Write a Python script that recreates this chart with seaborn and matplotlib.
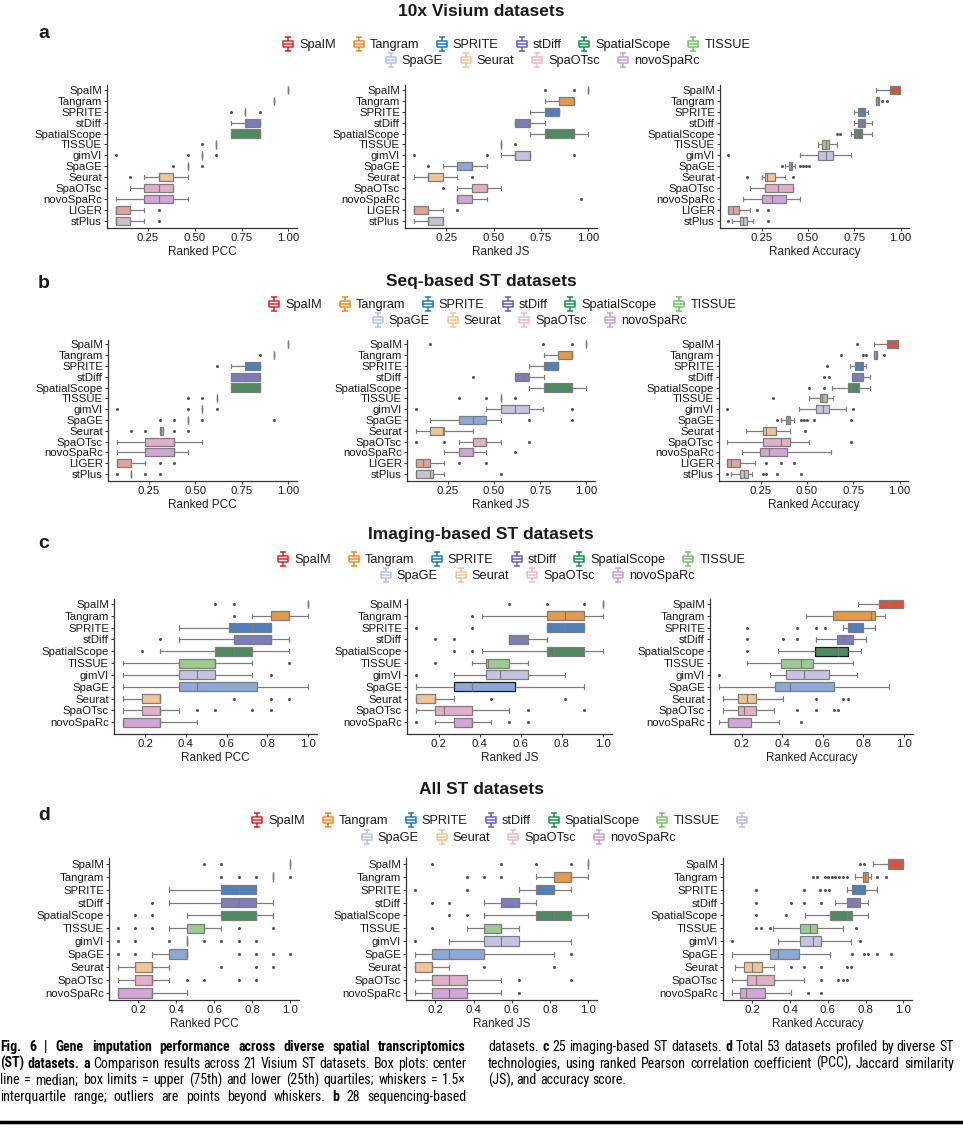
import numpy as np
import pandas as pd
import seaborn as sns
import matplotlib.pyplot as plt
from matplotlib import font_manager
from matplotlib.path import Path
from matplotlib.lines import Line2D

sns.set_theme(style="ticks")
plt.rcParams["font.family"] = ["Liberation Sans", "DejaVu Sans"]

W, H = 963, 1137

methods = ["SpaIM", "Tangram", "SPRITE", "stDiff", "SpatialScope", "TISSUE", "gimVI",
           "SpaGE", "Seurat", "SpaOTsc", "novoSpaRc", "LIGER", "stPlus"]
box_colors = ["#D6543F", "#E39A4C", "#4E80BE", "#7B7DB8", "#4E8A5E", "#9BCB8F", "#C4C4E2",
              "#8CA8D6", "#F1C495", "#E2AFC8", "#D3A4D8", "#E1A596", "#C8C2CC"]

legend_row1 = ["SpaIM", "Tangram", "SPRITE", "stDiff", "SpatialScope", "TISSUE"]
legend_row1_colors = ["#D62728", "#F08A24", "#1F78C1", "#5F62C0", "#17944A", "#79C26E"]
legend_row2 = ["SpaGE", "Seurat", "SpaOTsc", "novoSpaRc"]
legend_row2_colors = ["#AFC6E9", "#F5C190", "#F0B6CC", "#C8A2D6"]
gimvi_legend_color = "#B9B9E6"

# per method: (whisker low, q1, median, q3, whisker high, outliers)
visium_pcc = {
    "SpaIM": (1, 1, 1, 1, 1, []),
    "Tangram": (.923, .923, .923, .923, .923, []),
    "SPRITE": (.769, .769, .769, .769, .769, [.692, .846]),
    "stDiff": (.692, .769, .846, .846, .846, []),
    "SpatialScope": (.692, .692, .846, .846, .846, []),
    "TISSUE": (.615, .615, .615, .615, .615, [.538]),
    "gimVI": (.538, .538, .538, .538, .538, [.077, .462, .615]),
    "SpaGE": (.462, .462, .462, .462, .462, [.385, .538]),
    "Seurat": (.231, .308, .308, .385, .462, [.154]),
    "SpaOTsc": (.154, .231, .308, .385, .385, []),
    "novoSpaRc": (.077, .231, .308, .385, .462, []),
    "LIGER": (.077, .077, .077, .154, .231, [.308]),
    "stPlus": (.077, .077, .077, .154, .231, [.308]),
}
visium_js = {
    "SpaIM": (1, 1, 1, 1, 1, [.769, .923]),
    "Tangram": (.769, .846, .923, .923, .923, []),
    "SPRITE": (.692, .769, .846, .846, .846, []),
    "stDiff": (.615, .615, .615, .692, .769, []),
    "SpatialScope": (.692, .769, .923, .923, 1.0, []),
    "TISSUE": (.538, .538, .538, .538, .538, [.615]),
    "gimVI": (.538, .615, .615, .692, .692, [.077, .462, .923]),
    "SpaGE": (.231, .308, .385, .385, .462, [.154]),
    "Seurat": (.077, .154, .154, .231, .308, [.385]),
    "SpaOTsc": (.308, .385, .462, .462, .538, [.231]),
    "novoSpaRc": (.308, .308, .308, .385, .462, [.96]),
    "LIGER": (.077, .077, .077, .154, .231, [.308]),
    "stPlus": (.077, .154, .154, .231, .231, []),
}
visium_acc = {
    "SpaIM": (.867, .94, .97, .995, .995, []),
    "Tangram": (.868, .868, .875, .885, .885, [.90, .925]),
    "SPRITE": (.75, .77, .785, .81, .825, []),
    "stDiff": (.75, .77, .79, .81, .845, []),
    "SpatialScope": (.73, .75, .76, .79, .845, [.655, .67]),
    "TISSUE": (.555, .575, .595, .615, .655, []),
    "gimVI": (.457, .555, .595, .635, .73, [.07]),
    "SpaGE": (.375, .395, .41, .415, .43, [.36, .457, .475, .49, .505]),
    "Seurat": (.25, .27, .28, .32, .375, [.17, .42]),
    "SpaOTsc": (.187, .268, .34, .42, .42, []),
    "novoSpaRc": (.15, .25, .305, .38, .457, []),
    "LIGER": (.07, .07, .097, .13, .187, [.223, .286]),
    "stPlus": (.088, .133, .15, .17, .205, [.07, .286]),
}

seq_pcc = {
    "SpaIM": (1, 1, 1, 1, 1, []),
    "Tangram": (.923, .923, .923, .923, .923, [.846]),
    "SPRITE": (.692, .769, .846, .846, .846, [.615]),
    "stDiff": (.692, .692, .769, .846, .846, []),
    "SpatialScope": (.692, .692, .846, .846, .846, []),
    "TISSUE": (.615, .615, .615, .615, .615, [.462, .538]),
    "gimVI": (.538, .538, .538, .538, .538, [.077, .462, .615]),
    "SpaGE": (.462, .462, .462, .462, .462, [.308, .385, .538, .923]),
    "Seurat": (.308, .308, .315, .325, .325, [.154, .231, .385, .462]),
    "SpaOTsc": (.077, .231, .385, .385, .538, []),
    "novoSpaRc": (.077, .231, .385, .385, .462, []),
    "LIGER": (.077, .077, .077, .154, .231, [.308, .385]),
    "stPlus": (.154, .154, .154, .154, .154, [.077, .231, .308]),
}
seq_js = {
    "SpaIM": (1, 1, 1, 1, 1, [.153, .767, .92]),
    "Tangram": (.769, .846, .923, .923, .923, []),
    "SPRITE": (.692, .769, .846, .846, .846, []),
    "stDiff": (.615, .615, .66, .692, .769, [.39]),
    "SpatialScope": (.692, .769, .923, .923, 1.0, []),
    "TISSUE": (.54, .54, .54, .54, .54, [.31, .46, .615]),
    "gimVI": (.455, .54, .615, .69, .765, [.08, .92]),
    "SpaGE": (.155, .31, .39, .46, .54, [.69, .92]),
    "Seurat": (.08, .155, .225, .23, .39, []),
    "SpaOTsc": (.31, .39, .46, .46, .54, [.08, .23, .69]),
    "novoSpaRc": (.23, .31, .39, .39, .46, [.615]),
    "LIGER": (.08, .08, .12, .155, .23, [.31, .46]),
    "stPlus": (.08, .08, .155, .17, .23, [.54]),
}
seq_acc = {
    "SpaIM": (.86, .93, .96, .99, .99, [.77]),
    "Tangram": (.86, .86, .87, .88, .88, [.685, .80, .82, .915]),
    "SPRITE": (.73, .76, .78, .80, .82, [.61]),
    "stDiff": (.745, .745, .77, .80, .84, [.59, .62]),
    "SpatialScope": (.637, .72, .735, .78, .84, [.51, .59]),
    "TISSUE": (.51, .57, .583, .61, .64, [.315]),
    "gimVI": (.457, .55, .586, .62, .71, [.07, .75]),
    "SpaGE": (.358, .385, .40, .41, .43, [.34, .466, .484, .50, .54, .735]),
    "Seurat": (.17, .26, .277, .33, .41, [.49]),
    "SpaOTsc": (.07, .26, .358, .41, .51, [.735]),
    "novoSpaRc": (.15, .246, .295, .394, .63, []),
    "LIGER": (.07, .07, .09, .14, .22, [.277, .358, .43]),
    "stPlus": (.088, .14, .16, .18, .205, [.07, .265, .28, .336, .47]),
}

img_pcc = {
    "SpaIM": (1, 1, 1, 1, 1, [.545, .636]),
    "Tangram": (.727, .818, .909, .909, 1.0, [.636]),
    "SPRITE": (.364, .612, .727, .818, .818, []),
    "stDiff": (.364, .636, .818, .818, .909, [.273]),
    "SpatialScope": (.273, .545, .636, .727, .909, [.182]),
    "TISSUE": (.091, .364, .545, .545, .727, [.909]),
    "gimVI": (.091, .364, .455, .545, .727, [.818]),
    "SpaGE": (.091, .364, .455, .75, 1.0, []),
    "Seurat": (.091, .182, .273, .273, .273, [.636, .818, .909]),
    "SpaOTsc": (.091, .182, .273, .273, .364, [.455, .545, .727, .818]),
    "novoSpaRc": (.091, .091, .273, .273, .455, []),
}
img_js = {
    "SpaIM": (1, 1, 1, 1, 1, [.545, .727, .909]),
    "Tangram": (.41, .727, .818, .909, 1.0, [.364]),
    "SPRITE": (.727, .727, .818, .909, .909, [.091, .364]),
    "stDiff": (.545, .545, .545, .636, .727, [.182, .273]),
    "SpatialScope": (.41, .727, .76, .909, 1.0, [.273, .364]),
    "TISSUE": (.364, .43, .44, .545, .636, [.182]),
    "gimVI": (.273, .43, .5, .636, .818, [.091]),
    "SpaGE": (.091, .273, .364, .57, .909, []),
    "Seurat": (.091, .091, .182, .182, .273, [.455, .818]),
    "SpaOTsc": (.091, .182, .227, .364, .545, [.636, .909]),
    "novoSpaRc": (.182, .273, .364, .364, .455, [.091, .545, .636]),
}
img_acc = {
    "SpaIM": (.775, .878, .93, .995, .995, []),
    "Tangram": (.52, .65, .84, .86, .906, []),
    "SPRITE": (.70, .725, .77, .80, .86, [.225, .474, .566, .61]),
    "stDiff": (.566, .67, .70, .75, .815, [.225, .405, .474]),
    "SpatialScope": (.38, .56, .676, .725, .79, [.225]),
    "TISSUE": (.225, .394, .495, .55, .75, []),
    "gimVI": (.34, .42, .51, .63, .77, [.09]),
    "SpaGE": (.09, .364, .44, .656, .927, []),
    "Seurat": (.11, .18, .225, .27, .405, [.566, .70, .725]),
    "SpaOTsc": (.11, .18, .213, .27, .36, [.474, .566, .655, .676]),
    "novoSpaRc": (.09, .134, .134, .246, .384, [.495]),
}

all_pcc = {
    "SpaIM": (1, 1, 1, 1, 1, [.545, .636]),
    "Tangram": (.909, .909, .909, .909, .909, [.636, .727, .818, 1.0]),
    "SPRITE": (.364, .636, .727, .818, .818, []),
    "stDiff": (.364, .636, .727, .818, .909, [.273]),
    "SpatialScope": (.455, .636, .818, .818, .909, [.182, .273]),
    "TISSUE": (.364, .455, .545, .545, .636, [.091, .182, .273, .727, .909]),
    "gimVI": (.455, .455, .455, .455, .455, [.091, .182, .364, .545, .636, .727, .818]),
    "SpaGE": (.273, .364, .455, .455, .455, [.091, .182, .727, .818, .909, 1.0]),
    "Seurat": (.091, .182, .273, .273, .364, [.636, .818, .909]),
    "SpaOTsc": (.091, .182, .273, .273, .364, [.455, .545, .727, .818]),
    "novoSpaRc": (.091, .091, .273, .273, .455, []),
}
all_js = {
    "SpaIM": (1, 1, 1, 1, 1, [.182, .545, .727, .909]),
    "Tangram": (.727, .818, .909, .909, 1.0, [.364, .455, .545]),
    "SPRITE": (.636, .727, .818, .818, .909, [.091, .364]),
    "stDiff": (.455, .545, .636, .636, .727, [.182, .273]),
    "SpatialScope": (.455, .727, .818, .909, 1.0, [.273, .364]),
    "TISSUE": (.364, .455, .545, .545, .636, [.182]),
    "gimVI": (.273, .455, .545, .636, .909, [.091]),
    "SpaGE": (.091, .182, .273, .455, .818, [.909]),
    "Seurat": (.091, .091, .182, .182, .273, [.455, .818]),
    "SpaOTsc": (.091, .182, .273, .364, .545, [.636, .909]),
    "novoSpaRc": (.091, .182, .273, .364, .545, [.636]),
}
all_acc = {
    "SpaIM": (.837, .92, .99, .998, .998, [.77, .79]),
    "Tangram": (.743, .788, .796, .81, .83, [.52, .54, .584, .60, .62, .637, .66, .68, .70, .858, .908]),
    "SPRITE": (.70, .726, .752, .797, .858, [.22, .473, .56, .584, .607]),
    "stDiff": (.637, .70, .726, .77, .814, [.22, .407, .473, .566]),
    "SpatialScope": (.478, .61, .70, .726, .814, [.22, .38]),
    "TISSUE": (.31, .45, .504, .54, .68, [.22, .248, .292, .748]),
    "gimVI": (.336, .45, .52, .566, .72, [.09, .77]),
    "SpaGE": (.09, .296, .336, .448, .61, [.726, .79, .814, .862, .933]),
    "Seurat": (.106, .156, .20, .253, .313, [.407, .473, .566, .70, .72]),
    "SpaOTsc": (.09, .172, .22, .313, .473, [.566, .655, .678, .70]),
    "novoSpaRc": (.09, .133, .168, .265, .407, [.496, .566]),
}

ticks_a = [0.25, 0.50, 0.75, 1.00]
ticklabels_a = ["0.25", "0.50", "0.75", "1.00"]
ticks_c = [0.2, 0.4, 0.6, 0.8, 1.0]
ticklabels_c = ["0.2", "0.4", "0.6", "0.8", "1.0"]
xlabels = ["Ranked PCC", "Ranked JS", "Ranked Accuracy"]

palette = dict(zip(methods, box_colors))


def to_frames(stats, n=10):
    # turn the read box summaries into a sample whose quartiles give the same box
    rows, flier_rows = [], []
    for m, (lo, q1, med, q3, hi, fl) in stats.items():
        vals = [lo] + [q1] * n + [med] * n + [q3] * n + [hi]
        rows += [(m, v) for v in vals]
        flier_rows += [(m, v) for v in fl]
    return (pd.DataFrame(rows, columns=["method", "value"]),
            pd.DataFrame(flier_rows, columns=["method", "value"]))


fig = plt.figure(figsize=(W / 100, H / 100), dpi=100)


def px_axes(x0, x1, y0, y1):
    return fig.add_axes([x0 / W, 1 - y1 / H, (x1 - x0) / W, (y1 - y0) / H])


def draw_panel(ax, stats, xlim, ylim, ticks, ticklabels, xlabel, dark=()):
    order = list(stats.keys())
    df, fl = to_frames(stats)
    sns.boxplot(data=df, x="value", y="method", order=order, hue="method", hue_order=order,
                palette=palette, legend=False, whis=(0, 100), showfliers=False,
                width=0.75, linewidth=0.9, linecolor="#7d7d7d", saturation=1, ax=ax)
    for i, p in enumerate(ax.patches):
        if i < len(order) and order[i] in dark:
            p.set_edgecolor("#1a1a1a")
    sns.stripplot(data=fl, x="value", y="method", order=order, jitter=False,
                  color="#555555", size=2.2, linewidth=0, ax=ax)
    ax.set_xlim(*xlim)
    ax.set_ylim(*ylim)
    ax.set_xticks(ticks)
    ax.set_xticklabels(ticklabels)
    ax.set_ylabel("")
    ax.set_xlabel(xlabel, fontsize=8.5, color="#222222", labelpad=2)
    sns.despine(ax=ax)
    for s in ["left", "bottom"]:
        ax.spines[s].set_color("#333333")
        ax.spines[s].set_linewidth(0.9)
    ax.tick_params(axis="both", length=2.5, width=0.7, color="#333333",
                   labelsize=8.2, labelcolor="#1a1a1a", pad=1.2)


glyph = Path(
    [(-0.75, -0.4), (0.75, -0.4), (0.75, 0.4), (-0.75, 0.4), (-0.75, -0.4),
     (-0.75, 0), (0.75, 0),
     (0, 0.4), (0, 1.0), (-0.4, 1.0), (0.4, 1.0),
     (0, -0.4), (0, -1.0), (-0.4, -1.0), (0.4, -1.0)],
    [Path.MOVETO, Path.LINETO, Path.LINETO, Path.LINETO, Path.LINETO,
     Path.MOVETO, Path.LINETO,
     Path.MOVETO, Path.LINETO, Path.MOVETO, Path.LINETO,
     Path.MOVETO, Path.LINETO, Path.MOVETO, Path.LINETO])


def legend_row(names, colors, cx, cy):
    handles = [Line2D([], [], marker=glyph, linestyle="none", markerfacecolor="none",
                      markeredgecolor=c, markersize=9.5, markeredgewidth=1.1) for c in colors]
    leg = fig.legend(handles, names, loc="center", bbox_to_anchor=(cx / W, 1 - cy / H),
                     ncol=len(names), frameon=False, fontsize=9.2, handletextpad=0.35,
                     columnspacing=1.3, handlelength=1.0, borderaxespad=0, borderpad=0)
    for t in leg.get_texts():
        t.set_color("#1a1a1a")


panels = [
    dict(title="10x Visium datasets", letter="a", ty=12, ly=33, leg=(516, 45, 542, 61),
         data=[visium_pcc, visium_js, visium_acc], y=(85, 228), ylim=(12.65, -0.45),
         xs=[(107, 297), (405, 597), (720, 909)],
         xlims=[(0.031, 1.046), (0.031, 1.046), (0.025, 1.045)], ticks=(ticks_a, ticklabels_a),
         extra=False, dark=[(), (), ()]),
    dict(title="Seq-based ST datasets", letter="b", ty=282, ly=284, leg=(502, 305, 529, 321),
         data=[seq_pcc, seq_js, seq_acc], y=(340, 481), ylim=(12.65, -0.4),
         xs=[(108, 297), (407, 595), (719, 908)],
         xlims=[(0.031, 1.046), (0.031, 1.046), (0.025, 1.045)], ticks=(ticks_a, ticklabels_a),
         extra=False, dark=[(), (), ()]),
    dict(title="Imaging-based ST datasets", letter="c", ty=535, ly=544, leg=(511, 560, 537, 576),
         data=[img_pcc, img_js, img_acc], y=(599, 734), ylim=(11.0, -0.42),
         xs=[(114, 317), (407, 612), (710, 913)],
         xlims=[(0.046, 1.045), (0.046, 1.045), (0.044, 1.046)], ticks=(ticks_c, ticklabels_c),
         extra=False, dark=[(), ("SpaGE",), ("SpatialScope",)]),
    dict(title="All ST datasets", letter="d", ty=790, ly=815, leg=(502, 821, 518, 838),
         data=[all_pcc, all_js, all_acc], y=(858, 1000), ylim=(10.55, -0.45),
         xs=[(109, 299), (406, 597), (723, 912)],
         xlims=[(0.046, 1.045), (0.046, 1.045), (0.045, 1.045)], ticks=(ticks_c, ticklabels_c),
         extra=True, dark=[(), (), ()]),
]

for p in panels:
    fig.text(481 / W, 1 - p["ty"] / H, p["title"], ha="center", va="center",
             fontsize=12.5, fontweight="bold", color="#1a1a1a")
    fig.text(38 / W, 1 - p["ly"] / H, p["letter"], ha="left", va="center",
             fontsize=14, fontweight="bold", color="#1a1a1a")
    r1, c1 = list(legend_row1), list(legend_row1_colors)
    if p["extra"]:
        r1.append("")
        c1.append(gimvi_legend_color)
    legend_row(r1, c1, p["leg"][0], p["leg"][1])
    legend_row(legend_row2, legend_row2_colors, p["leg"][2], p["leg"][3])
    for stats, (x0, x1), xlim, xl, dk in zip(p["data"], p["xs"], p["xlims"], xlabels, p["dark"]):
        ax = px_axes(x0, x1, p["y"][0], p["y"][1])
        draw_panel(ax, stats, xlim, p["ylim"], p["ticks"][0], p["ticks"][1], xl, dk)

# caption: two justified columns in a narrow face
installed = {f.name for f in font_manager.fontManager.ttflist}
cap_family = "Liberation Sans"
for name in ["Liberation Sans Narrow", "DejaVu Sans Condensed", "Roboto Condensed",
             "Open Sans Condensed", "Liberation Sans"]:
    if name in installed:
        cap_family = name
        break
renderer = fig.canvas.get_renderer()


def text_width(s, bold, size):
    t = fig.text(0, 0, s, fontsize=size, fontweight="bold" if bold else "normal",
                 family=cap_family)
    w = t.get_window_extent(renderer).width
    t.remove()
    return w


def line_words(parts):
    words = []
    for text, bold in parts:
        for w in text.split():
            words.append((w, bold))
    return words


def natural_width(parts, size):
    words = line_words(parts)
    sp = text_width("x x", False, size) - text_width("xx", False, size)
    return sum(text_width(w, b, size) for w, b in words) + sp * (len(words) - 1)


def rich_line(x, y, parts, size, target=None):
    words = line_words(parts)
    widths = [text_width(w, b, size) for w, b in words]
    sp = text_width("x x", False, size) - text_width("xx", False, size)
    if target is not None and len(words) > 1:
        sp = max(sp, (target - sum(widths)) / (len(words) - 1))
    for (w, b), wd in zip(words, widths):
        fig.text(x / W, 1 - y / H, w, fontsize=size, fontweight="bold" if b else "normal",
                 family=cap_family, ha="left", va="center", color="black")
        x += wd + sp


caption_left = [
    [("Fig. 6 | Gene imputation performance across diverse spatial transcriptomics", True)],
    [("(ST) datasets. a", True), (" Comparison results across 21 Visium ST datasets. Box plots: center", False)],
    [("line = median; box limits = upper (75th) and lower (25th) quartiles; whiskers = 1.5\u00d7", False)],
    [("interquartile range; outliers are points beyond whiskers.", False), (" b", True),
     (" 28 sequencing-based", False)],
]
caption_right = [
    [("datasets.", False), (" c", True), (" 25 imaging-based ST datasets.", False), (" d", True),
     (" Total 53 datasets profiled by diverse ST", False)],
    [("technologies, using ranked Pearson correlation coefficient (PCC), Jaccard similarity", False)],
    [("(JS), and accuracy score.", False)],
]
col_width = 466
cap_size = 11.0
for size in np.arange(11.0, 7.0, -0.25):
    cap_size = size
    if max(natural_width(pl, size) for pl in caption_left + caption_right[:2]) <= col_width:
        break

for i, parts in enumerate(caption_left):
    rich_line(0, 1047 + i * 16.7, parts, cap_size, target=col_width)
for i, parts in enumerate(caption_right):
    rich_line(488, 1047 + i * 16.7, parts, cap_size, target=col_width if i < 2 else None)

fig.add_artist(Line2D([0, 1], [1 - 1122 / H, 1 - 1122 / H], color="black", linewidth=2.5,
                      transform=fig.transFigure))

fig.savefig("out.png", dpi=100)
